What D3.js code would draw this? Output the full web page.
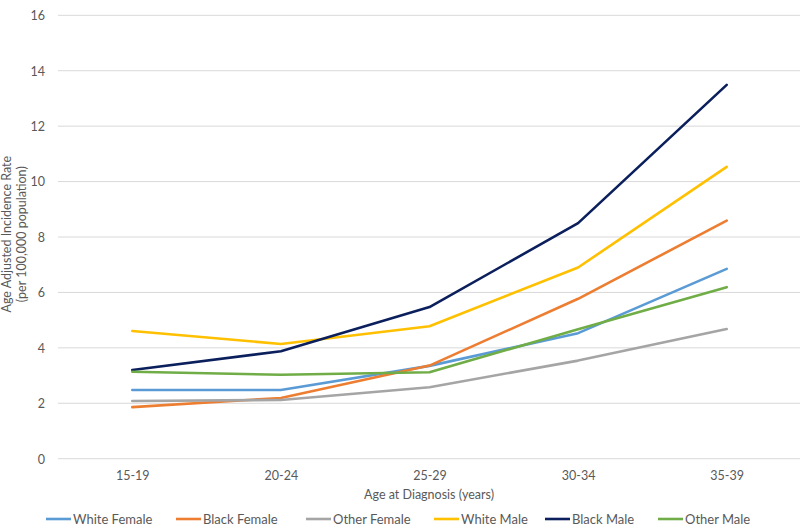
<!DOCTYPE html>
<html><head><meta charset="utf-8">
<script src="https://cdn.jsdelivr.net/npm/d3@7/dist/d3.min.js"></script>
<style>body{margin:0;background:#fff}svg{display:block}text{font-family:Lato,"Open Sans",sans-serif;fill:#595959}</style>
</head><body><svg id="c" width="800" height="528"></svg>
<script>
const categories = ["15-19","20-24","25-29","30-34","35-39"];
const seriesNames = ["White Female","Black Female","Other Female","White Male","Black Male","Other Male"];
const whiteFemale = [2.48, 2.48, 3.35, 4.53, 6.85];
const blackFemale = [1.86, 2.19, 3.36, 5.77, 8.59];
const otherFemale = [2.08, 2.12, 2.58, 3.54, 4.68];
const whiteMale   = [4.61, 4.14, 4.78, 6.90, 10.53];
const blackMale   = [3.20, 3.88, 5.47, 8.50, 13.49];
const otherMale   = [3.14, 3.03, 3.12, 4.67, 6.19];
const yTicks = [0,2,4,6,8,10,12,14,16];
const colors = ["#5B9BD5","#ED7D31","#A5A5A5","#FFC000","#0A1F5C","#70AD47"];
const seriesValues = [whiteFemale, blackFemale, otherFemale, whiteMale, blackMale, otherMale];

const svg = d3.select("#c");
const pLeft = 58, pRight = 801, pTop = 15.3, pBottom = 458.7;
const x = d3.scalePoint().domain(categories).range([pLeft, pRight]).padding(0.5);
const y = d3.scaleLinear().domain([0,16]).range([pBottom, pTop]);

// gridlines
svg.append("g").selectAll("line").data(yTicks).join("line")
  .attr("x1", pLeft).attr("x2", pRight)
  .attr("y1", d=>y(d)).attr("y2", d=>y(d))
  .attr("stroke", "#d9d9d9").attr("stroke-width", 1);

// y axis labels
const yAxis = d3.axisLeft(y).tickValues(yTicks).tickSize(0).tickPadding(0);
const gy = svg.append("g").attr("transform", `translate(${45},0)`).call(yAxis);
gy.select(".domain").remove();
gy.selectAll("text").style("font-size","12.5px").attr("fill","#595959").attr("dy","0.35em");

// x axis labels
const xAxis = d3.axisBottom(x).tickSize(0).tickPadding(0);
const gx = svg.append("g").attr("transform", `translate(0,${471})`).call(xAxis);
gx.select(".domain").remove();
gx.selectAll("text").style("font-size","12.5px").attr("fill","#595959");

// titles
svg.append("text").attr("x", 429).attr("y", 499).attr("text-anchor","middle")
  .style("font-size","12.5px").text("Age at Diagnosis (years)");
const yt = svg.append("text").attr("transform", `translate(11,${y(8.1)}) rotate(-90)`).attr("text-anchor","middle").style("font-size","12.5px");
yt.append("tspan").attr("x",0).attr("dy",0).text("Age Adjusted Incidence Rate");
yt.append("tspan").attr("x",0).attr("dy","1.2em").text("(per 100,000 population)");

// lines
const line = d3.line().x((d,i)=>x(categories[i])).y(d=>y(d));
svg.append("g").selectAll("path").data(seriesValues).join("path")
  .attr("d", d=>line(d)).attr("fill","none")
  .attr("stroke", (d,i)=>colors[i]).attr("stroke-width", 2.6)
  .attr("stroke-linejoin","round").attr("stroke-linecap","round");

// legend
const legendX = [46, 176, 306, 434, 545, 658];
const lg = svg.append("g").selectAll("g").data(seriesNames).join("g")
  .attr("transform", (d,i)=>`translate(${legendX[i]},${519})`);
lg.append("line").attr("x1",0).attr("x2",25).attr("y1",0).attr("y2",0)
  .attr("stroke",(d,i)=>colors[i]).attr("stroke-width",2.6);
lg.append("text").attr("x",27).attr("dy","0.35em").style("font-size","13px").text(d=>d);
</script></body></html>
